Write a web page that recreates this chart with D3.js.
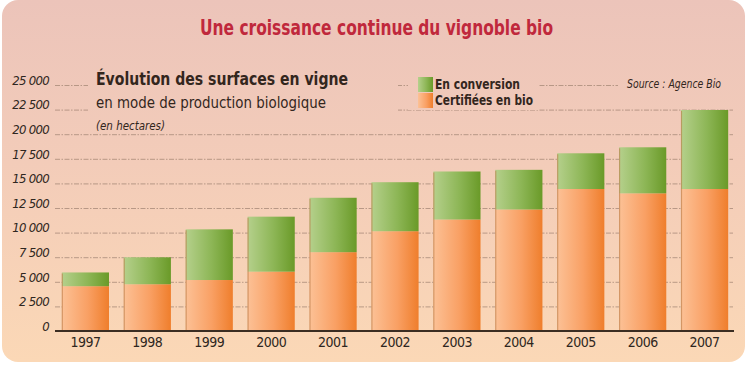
<!DOCTYPE html>
<html>
<head>
<meta charset="utf-8">
<script src="https://cdn.jsdelivr.net/npm/d3@7"></script>
<style>
  body { margin: 0; background: #fff; }
  svg { display: block; }
  text { font-family: "DejaVu Sans Condensed", "Liberation Sans Narrow", sans-serif; }
</style>
</head>
<body>
<div id="vis"></div>
<script>
// Data (hectares)
const years = ["1997", "1998", "1999", "2000", "2001", "2002", "2003", "2004", "2005", "2006", "2007"];
const certifiees = [4550, 4750, 5180, 6030, 8010, 10140, 11330, 12350, 14430, 13990, 14430];
const conversion = [1400, 2740, 5150, 5590, 5530, 4980, 4880, 4030, 3630, 4680, 8030];
const tickValues = [0, 2500, 5000, 7500, 10000, 12500, 15000, 17500, 20000, 22500, 25000];
const tickLabels = ["0", "2 500", "5 000", "7 500", "10 000", "12 500", "15 000", "17 500", "20 000", "22 500", "25 000"];

const width = 747;
const height = 370;
const margin = { top: 85, right: 12, bottom: 39, left: 55 };

const svg = d3.select("#vis")
  .append("svg")
  .attr("width", width)
  .attr("height", height);

const defs = svg.append("defs");

// Panel background: pink at top, peach at the bottom
const bg = defs.append("linearGradient")
  .attr("id", "bg")
  .attr("gradientUnits", "userSpaceOnUse")
  .attr("x1", 0).attr("y1", 0)
  .attr("x2", 0).attr("y2", 362);
bg.append("stop").attr("offset", "0%").attr("stop-color", "#ecc4ba");
bg.append("stop").attr("offset", "45%").attr("stop-color", "#f3ccb9");
bg.append("stop").attr("offset", "100%").attr("stop-color", "#fbd8b6");

const orange = defs.append("linearGradient").attr("id", "orange");
orange.append("stop").attr("offset", "0%").attr("stop-color", "#fcc196");
orange.append("stop").attr("offset", "55%").attr("stop-color", "#f9a064");
orange.append("stop").attr("offset", "100%").attr("stop-color", "#ef7e2c");

const green = defs.append("linearGradient").attr("id", "green");
green.append("stop").attr("offset", "0%").attr("stop-color", "#b5d08c");
green.append("stop").attr("offset", "55%").attr("stop-color", "#8db656");
green.append("stop").attr("offset", "100%").attr("stop-color", "#6a9a28");

svg.append("rect")
  .attr("x", 2).attr("y", 0)
  .attr("width", 743).attr("height", 362)
  .attr("rx", 16)
  .attr("fill", "url(#bg)");

// Scales
const x = d3.scaleBand()
  .domain(years)
  .range([margin.left, width - margin.right])
  .paddingInner(0.238)
  .paddingOuter(0.11);

const y = d3.scaleLinear()
  .domain([0, 25000])
  .range([height - margin.bottom, margin.top]);

// Grid
svg.append("g")
  .attr("transform", `translate(${margin.left},0)`)
  .call(d3.axisLeft(y).tickValues(tickValues.slice(1)).tickSize(-(width - margin.left - margin.right - 2)).tickFormat(""))
  .call(g => g.select(".domain").remove())
  .selectAll("line")
  .attr("stroke", "#a88a78")
  .attr("stroke-width", 0.8)
  .attr("stroke-dasharray", "5,1.5,1.5,1.5");

// Blocks that hide the grid behind the header texts
[[88, 70, 310, 44], [408, 70, 130, 40], [618, 72, 120, 20]].forEach(r => {
  svg.append("rect")
    .attr("x", r[0]).attr("y", r[1])
    .attr("width", r[2]).attr("height", r[3])
    .attr("fill", "url(#bg)");
});

// Y tick labels
svg.append("g")
  .attr("transform", `translate(${margin.left - 3},0)`)
  .call(d3.axisLeft(y).tickValues(tickValues).tickSize(0).tickFormat((d, i) => tickLabels[i]))
  .call(g => g.select(".domain").remove())
  .selectAll("text")
  .attr("font-style", "italic")
  .attr("font-size", "13px")
  .attr("letter-spacing", "-0.7")
  .attr("fill", "#2e2620")
  .attr("dy", "-0.05em");

// Stacked bars
const bars = svg.append("g");
years.forEach((yr, i) => {
  const x0 = x(yr);
  const bw = x.bandwidth();
  bars.append("rect")
    .attr("x", x0).attr("y", y(certifiees[i]))
    .attr("width", bw).attr("height", y(0) - y(certifiees[i]))
    .attr("fill", "url(#orange)");
  bars.append("rect")
    .attr("x", x0).attr("y", y(certifiees[i] + conversion[i]))
    .attr("width", bw).attr("height", y(certifiees[i]) - y(certifiees[i] + conversion[i]))
    .attr("fill", "url(#green)");
  // darker left edge
  bars.append("line")
    .attr("x1", x0 + 0.5).attr("x2", x0 + 0.5)
    .attr("y1", y(certifiees[i] + conversion[i]) + 1).attr("y2", y(0))
    .attr("stroke", "#b97a45")
    .attr("stroke-opacity", 0.6)
    .attr("stroke-width", 1.2);
});

// X axis
svg.append("g")
  .attr("transform", `translate(0,${y(0)})`)
  .call(d3.axisBottom(x).tickSize(0).tickPadding(6))
  .call(g => g.select(".domain")
    .attr("d", `M${margin.left},0H${width - margin.right - 1}`)
    .attr("stroke", "#3b2d22")
    .attr("stroke-width", 2))
  .selectAll("text")
  .attr("font-size", "14px")
  .attr("letter-spacing", "-0.5")
  .attr("fill", "#2e2620");

// Squeeze a text to the width it has in the picture
function fit(sel, w) {
  sel.attr("textLength", w).attr("lengthAdjust", "spacingAndGlyphs");
  return sel;
}

// Title
fit(svg.append("text")
  .attr("x", 200)
  .attr("y", 35)
  .attr("fill", "#c0283c")
  .attr("font-size", "22px")
  .attr("font-weight", "bold")
  .text("Une croissance continue du vignoble bio"), 353);

// Chart heading
fit(svg.append("text")
  .attr("x", 96).attr("y", 85)
  .attr("fill", "#33261d")
  .attr("font-size", "18px")
  .attr("font-weight", "bold")
  .text("Évolution des surfaces en vigne"), 252);

fit(svg.append("text")
  .attr("x", 96).attr("y", 108)
  .attr("fill", "#33261d")
  .attr("font-size", "16px")
  .text("en mode de production biologique"), 230);

fit(svg.append("text")
  .attr("x", 96).attr("y", 130)
  .attr("fill", "#33261d")
  .attr("font-size", "12px")
  .attr("font-style", "italic")
  .text("(en hectares)"), 69);

// Legend
const legend = svg.append("g").attr("transform", "translate(418,77)");
[["En conversion", "url(#green)", 85], ["Certifiées en bio", "url(#orange)", 98]].forEach((d, i) => {
  legend.append("rect")
    .attr("x", 0).attr("y", i * 16)
    .attr("width", 15).attr("height", 15)
    .attr("fill", d[1]);
  fit(legend.append("text")
    .attr("x", 17).attr("y", i * 16 + 12)
    .attr("fill", "#33261d")
    .attr("font-size", "14px")
    .attr("font-weight", "bold")
    .text(d[0]), d[2]);
});

// Source
fit(svg.append("text")
  .attr("x", 627).attr("y", 88)
  .attr("fill", "#33261d")
  .attr("font-size", "12px")
  .attr("font-style", "italic")
  .text("Source : Agence Bio"), 94);
</script>
</body>
</html>
